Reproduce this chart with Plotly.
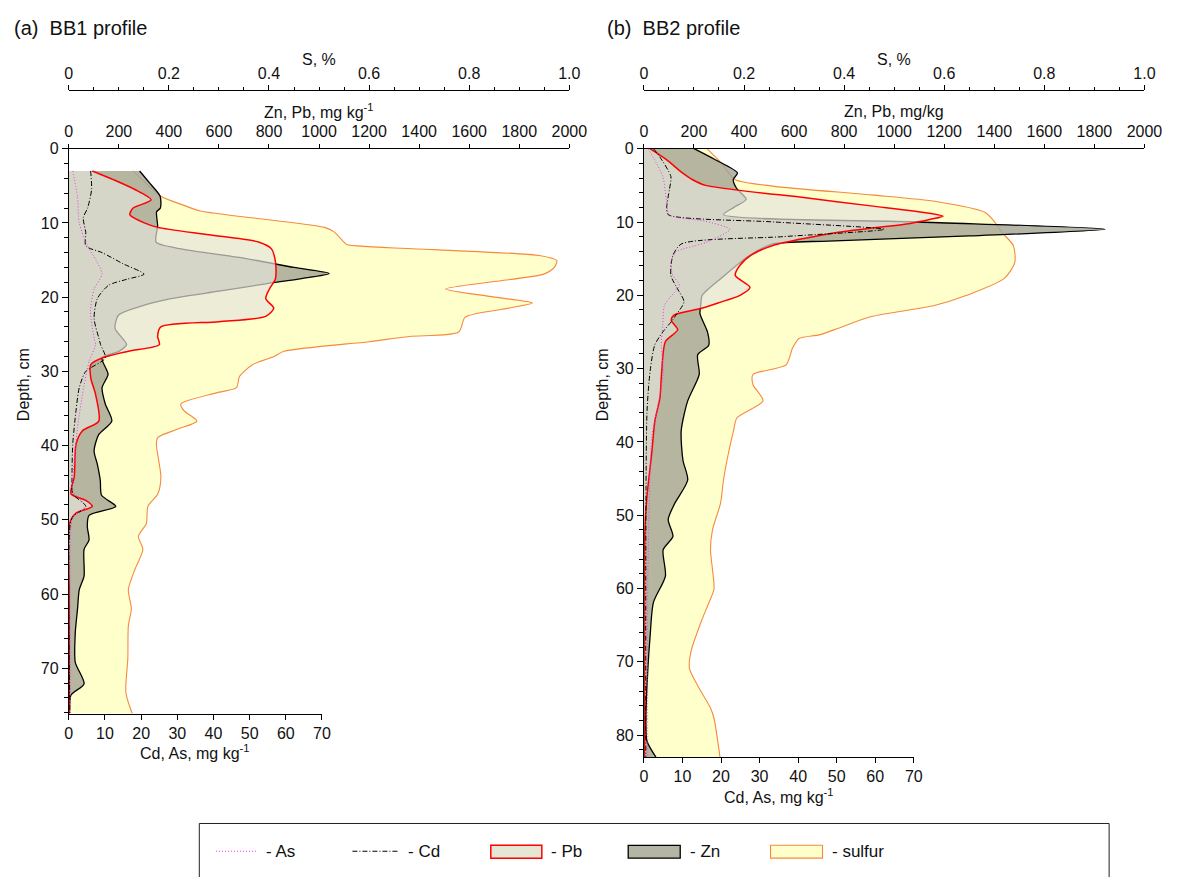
import plotly.graph_objects as go

# ---------------- DATA ----------------
# Panel (a) BB1 profile -- depth in cm, values in axis units
A_S_DEPTH = [3.0, 6.4, 7.5, 8.4, 9.5, 10.6, 11.2, 12.6, 12.9, 13.6, 14.4, 15.1, 16.0, 16.9, 17.9, 18.9,
             19.9, 20.8, 21.7, 22.7, 24.7, 25.3, 26.0, 27.3, 28.0, 29.1, 30.7, 32.2, 32.9, 34.4, 35.3,
             36.7, 37.8, 38.9, 39.8, 44.2, 46.5, 48.2, 50.5, 52.2, 54.0, 56.7, 59.4, 62.0, 64.3, 68.7,
             73.2, 75.8, 76.1]
A_S = [0.129, 0.184, 0.225, 0.263, 0.39, 0.511, 0.53, 0.55, 0.555, 0.73, 0.94, 0.975, 0.97, 0.949, 0.85,
       0.753, 0.84, 0.926, 0.86, 0.792, 0.779, 0.68, 0.6, 0.43, 0.41, 0.367, 0.341, 0.335, 0.295, 0.224,
       0.23, 0.256, 0.217, 0.178, 0.175, 0.184, 0.178, 0.158, 0.155, 0.139, 0.148, 0.132, 0.119, 0.125,
       0.119, 0.118, 0.114, 0.125, 0.127]

A_ZN_DEPTH = [3.0, 4.5, 6.4, 8.0, 8.5, 10.4, 12.6, 13.5, 14.8, 16.0, 16.8, 17.5, 18.2, 19.2, 20.2, 21.3,
              22.4, 24.2, 26.4, 27.3, 28.2, 30.4, 32.2, 34.4, 36.7, 38.5, 40.7, 42.5, 44.7, 46.7, 48.2,
              49.4, 50.9, 52.7, 54.0, 57.6, 59.4, 62.0, 65.2, 69.2, 72.1, 73.6, 75.8, 76.1]
A_ZN = [283, 320, 365, 366, 351, 355, 349, 450, 708, 900, 1040, 930, 787, 600, 408, 280,
        199, 185, 231, 200, 133, 157, 133, 146, 172, 120, 101, 114, 126, 131, 188,
        81, 74, 81, 61, 61, 42, 35, 26, 26, 61, 9, 3, 3]

A_PB_DEPTH = [3.0, 4.2, 5.5, 6.9, 8.0, 8.9, 10.0, 10.6, 11.6, 12.6, 13.5, 15.3, 17.5, 19.0, 20.2, 21.5,
              22.6, 23.3, 24.0, 25.3, 26.4, 27.3, 28.2, 29.1, 30.9, 33.1, 36.7, 38.0, 39.8, 44.2, 46.5,
              47.4, 48.2, 49.1, 50.5, 60.0, 76.1]
A_PB = [94, 180, 264, 329, 257, 244, 302, 355, 560, 761, 810, 826, 826, 800, 787, 819,
        787, 600, 368, 355, 362, 238, 133, 88, 88, 107, 120, 55, 29, 22, 9,
        68, 94, 29, 3, 2, 2]

A_CD_DEPTH = [3.0, 5.5, 8.0, 9.3, 11.3, 13.1, 14.0, 15.5, 16.9, 17.6, 18.4, 20.2, 22.9, 25.5, 26.4, 28.2,
              30.0, 32.2, 35.3, 39.8, 44.2, 46.5, 48.2, 49.6, 51.0, 76.1]
A_CD = [6.05, 6.3, 5.2, 4.0, 4.7, 4.7, 9.2, 15.0, 20.8, 16.0, 11.0, 7.9, 7.0, 8.3, 8.8, 10.1,
        4.7, 2.9, 2.0, 1.1, 0.9, 1.1, 4.7, 1.1, 0.3, 0.3]

A_AS_DEPTH = [3.0, 6.4, 10.0, 13.1, 15.0, 16.9, 18.9, 22.0, 25.5, 26.4, 28.7, 33.1, 37.6, 42.1, 46.1, 48.2,
              49.6, 52.0, 76.1]
A_AS = [1.1, 2.4, 2.9, 5.2, 7.5, 9.2, 7.0, 6.0, 7.0, 7.4, 5.6, 3.8, 2.4, 1.5, 1.1, 4.7,
        1.1, 0.5, 0.5]

# Panel (b) BB2 profile
B_S_DEPTH = [0.0, 2.0, 4.2, 5.1, 6.3, 7.2, 8.7, 10.1, 11.4, 13.2, 15.5, 17.7, 20.0, 21.4, 22.9, 24.5,
             25.4, 25.9, 27.2, 29.5, 30.8, 32.2, 34.4, 36.7, 38.5, 42.5, 45.2, 48.4, 52.0, 54.7, 57.4,
             60.1, 61.9, 64.6, 68.6, 70.9, 73.2, 76.3, 77.7, 83.0]
B_S = [0.126, 0.155, 0.182, 0.257, 0.454, 0.584, 0.682, 0.702, 0.715, 0.738, 0.741, 0.72, 0.645, 0.58,
       0.454, 0.388, 0.35, 0.31, 0.297, 0.284, 0.218, 0.218, 0.238, 0.186, 0.179, 0.166, 0.159, 0.153,
       0.137, 0.133, 0.137, 0.14, 0.13, 0.114, 0.094, 0.091, 0.107, 0.133, 0.14, 0.152]

B_ZN_DEPTH = [0.0, 1.5, 3.3, 4.2, 5.4, 6.9, 8.0, 9.0, 10.0, 11.0, 11.9, 12.6, 13.0, 14.6, 17.5, 20.0,
              21.4, 22.5, 25.0, 26.8, 28.1, 30.8, 34.4, 38.5, 42.5, 45.2, 48.4, 50.6, 52.9, 54.7, 58.3,
              61.9, 66.4, 70.9, 77.7, 80.8, 83.0]
B_ZN = [200, 285, 374, 357, 370, 409, 360, 318, 1100, 1842, 1300, 737, 515, 420, 315, 233,
        227, 224, 254, 259, 215, 221, 175, 149, 156, 175, 123, 97, 116, 77, 86,
        38, 25, 16, 8, 12, 48]

B_PB_DEPTH = [0.0, 1.5, 3.3, 4.2, 5.0, 6.7, 7.8, 8.8, 9.2, 9.6, 10.2, 11.4, 13.2, 14.5, 15.9, 17.3,
              18.9, 20.0, 21.0, 21.8, 22.7, 23.4, 24.7, 26.3, 30.4, 34.0, 37.1, 41.6, 47.5, 52.9, 83.0]
B_PB = [24, 90, 154, 193, 246, 646, 907, 1140, 1195, 1150, 1064, 777, 515, 430, 384, 365,
        424, 384, 300, 227, 120, 109, 135, 86, 71, 64, 44, 31, 12, 3, 2]

B_CD_DEPTH = [0.0, 1.1, 3.8, 5.6, 8.1, 9.0, 10.0, 11.0, 12.0, 13.0, 14.6, 17.3, 19.1, 20.9, 22.7, 23.6,
              25.0, 26.8, 30.4, 36.0, 83.0]
B_CD = [2.5, 4.1, 7.0, 6.6, 5.9, 6.3, 34.0, 62.3, 36.0, 9.7, 7.5, 7.0, 8.7, 10.4, 8.3, 7.1,
        4.9, 2.8, 1.6, 0.8, 0.5]

B_AS_DEPTH = [0.0, 3.8, 6.9, 9.0, 9.9, 11.0, 12.8, 14.1, 15.5, 17.3, 18.6, 20.4, 21.4, 24.1, 26.8, 30.4,
              34.9, 39.4, 48.4, 60.0, 83.0]
B_AS = [1.1, 4.9, 5.8, 6.6, 16.0, 22.3, 16.0, 8.3, 7.0, 7.5, 9.2, 6.6, 5.3, 4.9, 4.5, 5.0,
        3.7, 2.0, 1.4, 1.0, 1.0]

# Tick labels
S_TICKS = [0, 0.2, 0.4, 0.6, 0.8, 1.0]
S_LABELS = ["0", "0.2", "0.4", "0.6", "0.8", "1.0"]
ZN_TICKS = [0, 200, 400, 600, 800, 1000, 1200, 1400, 1600, 1800, 2000]
CD_TICKS = [0, 10, 20, 30, 40, 50, 60, 70]
A_DEPTH_TICKS = [0, 10, 20, 30, 40, 50, 60, 70]
B_DEPTH_TICKS = [0, 10, 20, 30, 40, 50, 60, 70, 80]

PANEL_TITLES = ["(a)  BB1 profile", "(b)  BB2 profile"]
S_TITLE = "S, %"
ZN_TITLES = ["Zn, Pb, mg kg<sup>-1</sup>", "Zn, Pb, mg/kg"]
CD_TITLE = "Cd, As, mg kg<sup>-1</sup>"
DEPTH_TITLE = "Depth, cm"
LEGEND_LABELS = ["- As", "- Cd", "- Pb", "- Zn", "- sulfur"]

# ---------------- STYLE / LAYOUT ----------------
W, H = 1186, 877
FONT = "Liberation Sans, Arial, sans-serif"

S_FILL, S_LINE = "#FFFFCC", "#F58A3C"
ZN_FILL, ZN_LINE = "rgba(165,165,150,0.82)", "#000000"
PB_FILL, PB_LINE = "rgba(228,228,220,0.68)", "#FF0000"
CD_LINE, AS_LINE = "#000000", "#E83CE8"


def fx(p):
    return p / W


def fy(p):
    return 1 - p / H


fig = go.Figure()


def profile(depth, vals, xa, ya, line_color, width, fillcolor=None, dash=None):
    fig.add_trace(go.Scatter(
        x=vals, y=depth, xaxis=xa, yaxis=ya, mode="lines",
        line=dict(color=line_color, width=width, shape="spline", smoothing=0.7, dash=dash),
        fill="tozerox" if fillcolor else None, fillcolor=fillcolor,
        showlegend=False, hoverinfo="skip"))


# panel a
profile(A_S_DEPTH, A_S, "x", "y", S_LINE, 1.1, S_FILL)
profile(A_ZN_DEPTH, A_ZN, "x2", "y", ZN_LINE, 1.3, ZN_FILL)
profile(A_PB_DEPTH, A_PB, "x2", "y", PB_LINE, 1.5, PB_FILL)
profile(A_CD_DEPTH, A_CD, "x3", "y", CD_LINE, 1.0, None, "5px,2px,1px,2px")
profile(A_AS_DEPTH, A_AS, "x3", "y", AS_LINE, 1.0, None, "1px,2px")
# panel b
profile(B_S_DEPTH, B_S, "x4", "y2", S_LINE, 1.1, S_FILL)
profile(B_ZN_DEPTH, B_ZN, "x5", "y2", ZN_LINE, 1.3, ZN_FILL)
profile(B_PB_DEPTH, B_PB, "x5", "y2", PB_LINE, 1.5, PB_FILL)
profile(B_CD_DEPTH, B_CD, "x6", "y2", CD_LINE, 1.0, None, "5px,2px,1px,2px")
profile(B_AS_DEPTH, B_AS, "x6", "y2", AS_LINE, 1.0, None, "1px,2px")

TOP_PX, S_AXIS_PX = 142, 83
PANELS = [
    dict(x0=66, x1=576, xc1=324, bottom=712, dmax=76.1, dticks=A_DEPTH_TICKS),
    dict(x0=652, x1=1162, xc1=927, bottom=756, dmax=83.0, dticks=B_DEPTH_TICKS),
]

common = dict(showline=True, linecolor="black", linewidth=1, showgrid=False, zeroline=False,
              tickcolor="black", tickfont=dict(size=16, family=FONT, color="#111"), fixedrange=True)

layout_axes = {}
for i, p in enumerate(PANELS):
    base = 3 * i + 1
    sx = "xaxis" if base == 1 else f"xaxis{base}"
    zx, cx = f"xaxis{base + 1}", f"xaxis{base + 2}"
    yname = "yaxis" if i == 0 else "yaxis2"
    yref = "y" if i == 0 else "y2"
    sref = "x" if base == 1 else f"x{base}"
    layout_axes[sx] = dict(common, domain=[fx(p["x0"]), fx(p["x1"])], range=[0, 1], anchor="free",
                           position=fy(S_AXIS_PX), side="top", tickmode="array", tickvals=S_TICKS,
                           ticktext=S_LABELS, ticks="outside", ticklen=5,
                           minor=dict(tickmode="linear", tick0=0, dtick=0.05, ticks="outside",
                                      ticklen=3, tickcolor="black"))
    layout_axes[zx] = dict(common, overlaying=sref, anchor=yref, side="top", range=[0, 2000],
                           tickmode="array", tickvals=ZN_TICKS, ticks="outside", ticklen=4)
    layout_axes[cx] = dict(common, domain=[fx(p["x0"]), fx(p["xc1"])], anchor=yref, side="bottom",
                           range=[0, 70], tickmode="array", tickvals=CD_TICKS, ticks="outside",
                           ticklen=5)
    layout_axes[yname] = dict(common, domain=[fy(p["bottom"]), fy(TOP_PX)], anchor=sref,
                              range=[p["dmax"], 0], tickmode="array", tickvals=p["dticks"],
                              ticks="outside", ticklen=6,
                              minor=dict(tickmode="linear", tick0=0, dtick=2, ticks="outside",
                                         ticklen=4, tickcolor="black"))

ann = []
shapes = []
P = dict(xref="paper", yref="paper", showarrow=False)
for i, p in enumerate(PANELS):
    cx_mid = (p["x0"] + p["x1"]) / 2
    ann.append(dict(P, x=fx(8 if i == 0 else 612), y=fy(20), text=PANEL_TITLES[i], xanchor="left",
                    yanchor="middle", font=dict(size=20)))
    ann.append(dict(P, x=fx(cx_mid), y=fy(52), text=S_TITLE, xanchor="center", yanchor="middle",
                    font=dict(size=16)))
    ann.append(dict(P, x=fx(cx_mid), y=fy(104), text=ZN_TITLES[i], xanchor="center",
                    yanchor="middle", font=dict(size=16)))
    ann.append(dict(P, x=fx((p["x0"] + p["xc1"]) / 2), y=fy(p["bottom"] + 39), text=CD_TITLE,
                    xanchor="center", yanchor="middle", font=dict(size=16)))
    ann.append(dict(P, x=fx(20 if i == 0 else 610), y=fy(380), text=DEPTH_TITLE, textangle=-90,
                    xanchor="center", yanchor="middle", font=dict(size=16)))

# legend (drawn as a framed key below the panels)
LEG_Y = 851
shapes.append(dict(type="rect", xref="paper", yref="paper", x0=fx(199), x1=fx(1126), y0=fy(882),
                   y1=fy(823), line=dict(color="#222", width=1), fillcolor="rgba(0,0,0,0)"))
shapes.append(dict(type="line", xref="paper", yref="paper", x0=fx(216), x1=fx(258), y0=fy(LEG_Y),
                   y1=fy(LEG_Y), line=dict(color=AS_LINE, width=1, dash="1px,2px")))
shapes.append(dict(type="line", xref="paper", yref="paper", x0=fx(355), x1=fx(402), y0=fy(LEG_Y),
                   y1=fy(LEG_Y), line=dict(color=CD_LINE, width=1, dash="5px,2px,1px,2px")))
for (a, b, fc, lc, lw) in [(496, 548, "rgb(230,230,212)", PB_LINE, 1.5),
                           (636, 689, "rgb(181,181,166)", ZN_LINE, 1.3),
                           (781, 834, S_FILL, S_LINE, 1.1)]:
    shapes.append(dict(type="rect", xref="paper", yref="paper", x0=fx(a), x1=fx(b),
                       y0=fy(LEG_Y + 7), y1=fy(LEG_Y - 6), line=dict(color=lc, width=lw),
                       fillcolor=fc))
for lbl, xl in zip(LEGEND_LABELS, [265, 410, 555, 697, 842]):
    ann.append(dict(P, x=fx(xl), y=fy(LEG_Y), text=lbl, xanchor="left", yanchor="middle",
                    font=dict(size=17)))

fig.update_layout(
    width=W, height=H, margin=dict(l=0, r=0, t=0, b=0, pad=0),
    paper_bgcolor="white", plot_bgcolor="rgba(0,0,0,0)",
    font=dict(family=FONT, size=16, color="#111"),
    showlegend=False, annotations=ann, shapes=shapes,
    **layout_axes)

fig.write_html("out.html")
